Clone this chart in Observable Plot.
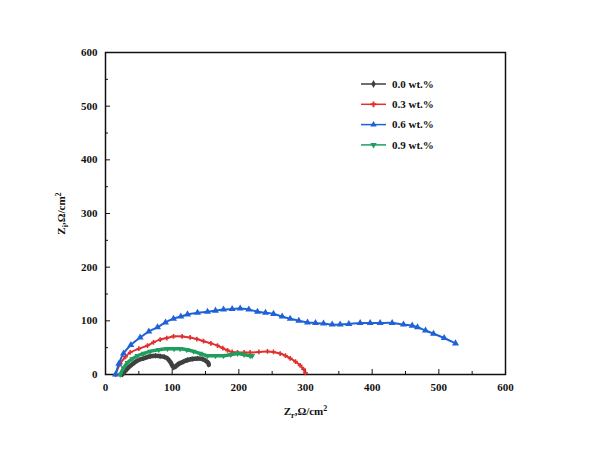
<!DOCTYPE html>
<html>
<head>
<meta charset="utf-8">
<script src="https://cdn.jsdelivr.net/npm/d3@7"></script>
<script src="https://cdn.jsdelivr.net/npm/@observablehq/plot@0.6"></script>
<style>
  body { margin: 0; background: #fff; }
  #wrap { position: relative; width: 590px; height: 452px; }
  #legend { position: absolute; left: 0; top: 0; }
</style>
</head>
<body>
<div id="wrap"></div>
<script>
// ---- data ----
const seriesNames = ["0.0 wt.%", "0.3 wt.%", "0.6 wt.%", "0.9 wt.%"];
const seriesColors = ["#404040", "#e03030", "#1f62d8", "#1f9e5e"];

const x00 = [25, 32, 40, 48, 57, 67, 75, 82, 88, 93, 98, 102, 106, 110, 117, 123, 130, 138, 145, 150, 154, 155];
const y00 = [0, 10, 19, 26, 30, 34, 35, 34, 33, 30, 22, 13, 16, 20, 24, 27, 29, 30, 29, 26, 22, 18];

const x03 = [15, 22, 30, 37, 50, 63, 72, 82, 92, 102, 115, 127, 137, 147, 158, 168, 176, 183, 190, 198, 208, 217, 230, 243, 252, 262, 270, 277, 285, 292, 297, 300];
const y03 = [0, 20, 33, 41, 48, 54, 60, 65, 68, 71, 71, 69, 66, 62, 58, 54, 49, 45, 42, 41, 41, 41, 42, 43, 42, 39, 35, 30, 24, 17, 10, 3];

const x06 = [15, 20, 27, 38, 52, 65, 78, 90, 102, 113, 123, 138, 153, 165, 177, 190, 202, 215, 228, 240, 252, 265, 277, 290, 303, 315, 327, 340, 352, 365, 382, 397, 412, 430, 447, 460, 468, 480, 492, 508, 525];
const y06 = [0, 20, 39, 55, 69, 80, 88, 97, 104, 108, 112, 115, 117, 119, 121, 122, 123, 121, 117, 115, 113, 108, 104, 100, 97, 96, 95, 93, 93, 94, 96, 96, 96, 96, 93, 91, 88, 82, 76, 68, 58];

const x09 = [22, 27, 33, 40, 48, 57, 67, 80, 93, 103, 112, 122, 132, 142, 153, 165, 177, 188, 198, 208, 217, 220];
const y09 = [0, 12, 22, 29, 35, 39, 43, 46, 48, 48, 48, 46, 43, 39, 35, 35, 35, 37, 39, 37, 35, 35];

const majorTicks = [0, 100, 200, 300, 400, 500, 600];
const minorTicks = [50, 150, 250, 350, 450, 550];
const xLabel = "Zr,Ω/cm²";
const yLabel = "Zi,Ω/cm²";

// ---- build table ----
const xs = [x00, x03, x06, x09];
const ys = [y00, y03, y06, y09];
const data = [];
seriesNames.forEach((s, i) => xs[i].forEach((x, j) => data.push({series: s, x, y: ys[i][j]})));
const pick = s => data.filter(d => d.series === s);

const font = "'Liberation Serif', serif";
const color = {domain: seriesNames, range: seriesColors};

const chart = Plot.plot({
  width: 590,
  height: 452,
  marginLeft: 105,
  marginRight: 85,
  marginTop: 52,
  marginBottom: 78,
  style: {fontFamily: font, fontSize: "11px", fontWeight: "bold", color: "#111", background: "#fff"},
  x: {domain: [0, 600]},
  y: {domain: [0, 600]},
  color,
  marks: [
    Plot.frame({stroke: "#111", strokeWidth: 1.5}),
    Plot.axisX({ticks: majorTicks, tickSize: -5, tickPadding: 14, tickFormat: d => d, label: xLabel, labelAnchor: "center", labelArrow: "none", labelOffset: 40, fontSize: 11}),
    Plot.axisX({ticks: minorTicks, tickSize: -3, label: null, text: null}),
    Plot.axisY({ticks: majorTicks, tickSize: -5, tickPadding: 13, tickFormat: d => d, label: yLabel, labelAnchor: "center", labelArrow: "none", labelOffset: 48, fontSize: 11}),
    Plot.axisY({ticks: minorTicks, tickSize: -3, label: null, text: null}),
    // 0.0 wt.%
    Plot.line(pick(seriesNames[0]), {x: "x", y: "y", stroke: "series", strokeWidth: 4.5, curve: "catmull-rom"}),
    Plot.dot(pick(seriesNames[0]), {x: "x", y: "y", fill: "series", symbol: "diamond", r: 1.8}),
    // 0.3 wt.%
    Plot.line(pick(seriesNames[1]), {x: "x", y: "y", stroke: "series", strokeWidth: 2, curve: "catmull-rom"}),
    Plot.dot(pick(seriesNames[1]), {x: "x", y: "y", fill: "series", symbol: "cross", r: 2}),
    // 0.9 wt.%
    Plot.line(pick(seriesNames[3]), {x: "x", y: "y", stroke: "series", strokeWidth: 3.5, curve: "catmull-rom"}),
    Plot.dot(pick(seriesNames[3]), {x: "x", y: "y", fill: "series", symbol: "triangle", rotate: 180, r: 2.2}),
    // 0.6 wt.%
    Plot.line(pick(seriesNames[2]), {x: "x", y: "y", stroke: "series", strokeWidth: 2, curve: "catmull-rom"}),
    Plot.dot(pick(seriesNames[2]), {x: "x", y: "y", fill: "series", symbol: "triangle", r: 2.6})
  ]
});
const wrap = document.getElementById("wrap");
wrap.appendChild(chart);

// subscripts in axis labels
d3.select(chart).selectAll("text").each(function () {
  const t = this.textContent;
  if (t === xLabel || t === yLabel) {
    const el = d3.select(this);
    el.text("");
    el.append("tspan").text("Z");
    el.append("tspan").attr("dy", 3).attr("font-size", 8).text(t[1]);
    el.append("tspan").attr("dy", -3).text(",Ω/cm");
    el.append("tspan").attr("dy", -4).attr("font-size", 8).text("2");
  }
});

// ---- legend (overlay) ----
const symbols = [d3.symbolDiamond, d3.symbolCross, d3.symbolTriangle, d3.symbolTriangle];
const rot = [0, 0, 0, 180];
const svg = d3.select(wrap).append("svg").attr("id", "legend").attr("width", 590).attr("height", 452)
  .style("font-family", font).style("font-size", "11px").style("font-weight", "bold");
seriesNames.forEach((s, i) => {
  const g = svg.append("g").attr("transform", `translate(361,${84 + i * 20.3})`);
  g.append("line").attr("x1", 0).attr("x2", 25).attr("stroke", seriesColors[i]).attr("stroke-width", 1.5);
  g.append("path").attr("d", d3.symbol(symbols[i], 18)()).attr("fill", seriesColors[i])
    .attr("transform", `translate(12.5,0) rotate(${rot[i]})`);
  g.append("text").attr("x", 31).attr("dy", "0.35em").attr("fill", "#111").text(s);
});
</script>
</body>
</html>
